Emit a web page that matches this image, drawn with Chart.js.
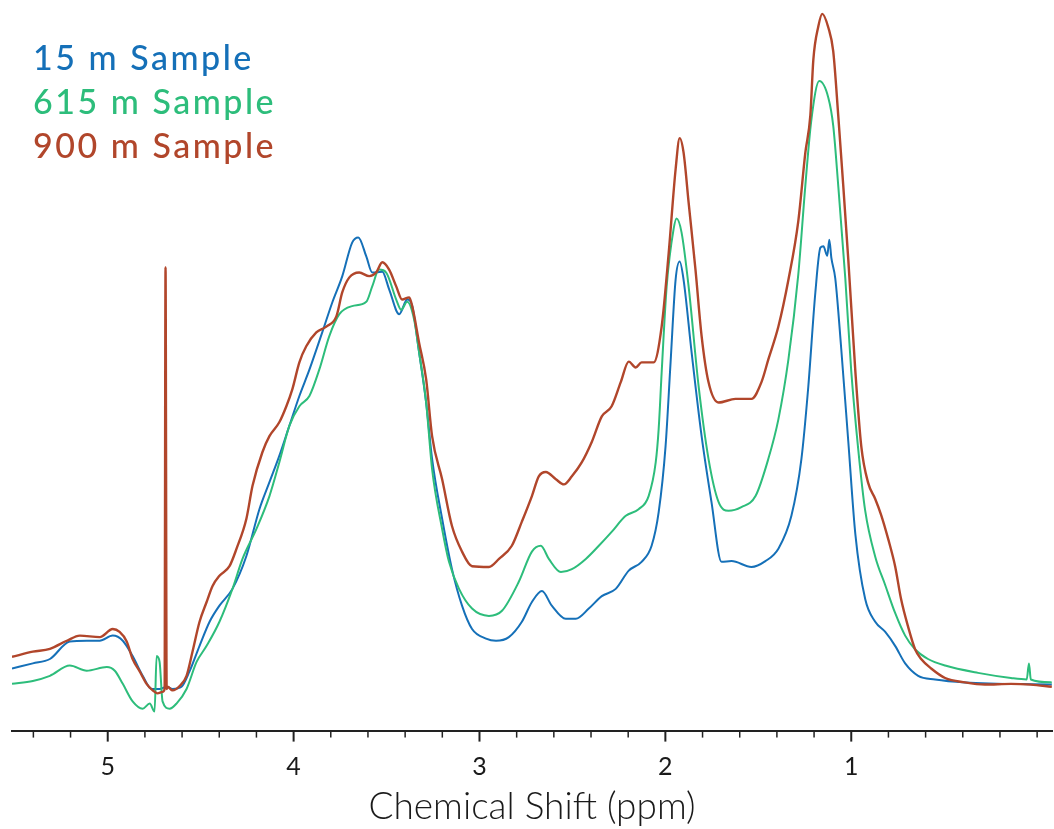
<!DOCTYPE html>
<html>
<head>
<meta charset="utf-8">
<script src="https://cdn.jsdelivr.net/npm/chart.js@4.4.1/dist/chart.umd.min.js"></script>
<style>
  html, body { margin: 0; padding: 0; background: #fff; }
  #wrap { width: 1054px; height: 829px; position: relative; }
</style>
</head>
<body>
<div id="wrap"><canvas id="nmr"></canvas></div>
<script>
// 1H NMR spectra of three depth samples.
// Each point is [chemical shift (ppm), intensity (a.u., 0-100)].

const sample15 = [
  [5.515, 8.5], [5.403, 9.2], [5.311, 9.8], [5.204, 12.2], [5.113, 12.3], [5.043, 12.3],
  [4.973, 13.0], [4.919, 12.3], [4.866, 10.2], [4.812, 7.5], [4.764, 5.7], [4.721, 5.7],
  [4.683, 6.0], [4.651, 5.7], [4.603, 6.0], [4.560, 8.1], [4.506, 11.6], [4.452, 14.9],
  [4.399, 17.1], [4.329, 19.4], [4.254, 23.9], [4.184, 30.3], [4.130, 34.0], [4.077, 37.6],
  [4.023, 41.7], [3.969, 45.8], [3.915, 49.4], [3.846, 54.5], [3.792, 58.6], [3.738, 62.2],
  [3.685, 66.8], [3.652, 67.5], [3.609, 64.9], [3.577, 62.7], [3.523, 62.8], [3.486, 60.4],
  [3.432, 57.0], [3.389, 59.0], [3.362, 58.1], [3.325, 51.8], [3.287, 44.9], [3.255, 37.2],
  [3.201, 29.0], [3.148, 22.1], [3.094, 17.1], [3.040, 13.9], [2.965, 12.6], [2.911, 12.3],
  [2.842, 12.8], [2.772, 14.9], [2.718, 17.6], [2.664, 19.1], [2.611, 17.1], [2.536, 15.3],
  [2.482, 15.3], [2.412, 16.7], [2.342, 18.4], [2.267, 19.4], [2.197, 21.9], [2.128, 23.1],
  [2.074, 25.3], [2.036, 29.9], [1.999, 38.9], [1.972, 50.4], [1.945, 61.7], [1.923, 64.2],
  [1.902, 61.7], [1.859, 51.8], [1.805, 40.3], [1.752, 31.3], [1.698, 23.1], [1.644, 23.2],
  [1.537, 22.4], [1.462, 23.2], [1.392, 24.9], [1.322, 29.4], [1.268, 37.2], [1.231, 47.1],
  [1.193, 60.0], [1.166, 66.1], [1.150, 66.3], [1.129, 65.0], [1.118, 67.2], [1.107, 64.7],
  [1.086, 61.9], [1.054, 52.3], [1.016, 39.6], [0.978, 26.9], [0.925, 18.0], [0.871, 14.9],
  [0.817, 13.5], [0.764, 11.6], [0.710, 9.2], [0.640, 7.5], [0.549, 7.0], [0.388, 6.6],
  [-0.079, 6.3]
];

const sample615 = [
  [5.515, 6.4], [5.403, 6.8], [5.311, 7.5], [5.204, 8.9], [5.113, 8.2], [5.005, 8.7],
  [4.962, 8.2], [4.919, 6.4], [4.866, 4.0], [4.812, 3.0], [4.774, 3.7], [4.748, 2.6],
  [4.737, 10.2], [4.721, 9.4], [4.705, 4.0], [4.667, 3.0], [4.630, 3.7], [4.576, 5.7],
  [4.522, 9.4], [4.468, 11.6], [4.399, 14.9], [4.329, 19.4], [4.275, 23.5], [4.200, 27.6],
  [4.130, 32.1], [4.077, 36.7], [4.023, 41.7], [3.969, 44.4], [3.915, 45.8], [3.862, 49.4],
  [3.808, 54.0], [3.754, 57.0], [3.685, 58.1], [3.609, 58.7], [3.577, 60.8], [3.540, 63.1],
  [3.502, 62.7], [3.448, 59.0], [3.421, 57.6], [3.389, 58.7], [3.352, 56.3], [3.325, 51.8],
  [3.287, 44.9], [3.255, 35.8], [3.201, 27.6], [3.164, 23.1], [3.110, 19.4], [3.040, 16.7],
  [2.949, 15.7], [2.879, 16.4], [2.788, 20.4], [2.718, 24.5], [2.670, 25.3], [2.627, 23.5],
  [2.562, 21.7], [2.503, 22.1], [2.428, 23.5], [2.358, 25.3], [2.289, 27.2], [2.213, 29.4],
  [2.144, 30.3], [2.090, 32.1], [2.052, 36.7], [2.036, 41.3], [2.020, 49.0], [1.993, 60.8],
  [1.956, 68.6], [1.940, 70.1], [1.913, 68.2], [1.875, 60.8], [1.821, 47.1], [1.768, 37.2],
  [1.714, 31.3], [1.660, 30.1], [1.591, 30.6], [1.515, 32.1], [1.446, 37.2], [1.392, 42.6],
  [1.338, 50.8], [1.285, 62.4], [1.247, 74.6], [1.215, 83.5], [1.172, 88.9], [1.123, 86.6],
  [1.097, 82.8], [1.070, 74.6], [1.032, 61.9], [1.000, 49.2], [0.962, 38.4], [0.925, 30.1],
  [0.871, 23.8], [0.817, 19.9], [0.764, 16.1], [0.710, 13.0], [0.656, 11.1], [0.587, 9.8],
  [0.495, 8.9], [0.318, 7.9], [0.141, 7.2], [0.056, 7.0], [0.044, 9.2], [0.034, 7.0],
  [-0.079, 6.6]
];

const sample900 = [
  [5.515, 10.1], [5.403, 10.8], [5.311, 11.2], [5.220, 12.3], [5.150, 13.0], [5.043, 12.8],
  [4.973, 13.9], [4.936, 13.5], [4.898, 12.2], [4.866, 9.8], [4.828, 8.1], [4.791, 6.4],
  [4.758, 5.5], [4.732, 5.1], [4.705, 5.3], [4.694, 5.7], [4.689, 63.4], [4.683, 5.7],
  [4.678, 6.0], [4.651, 5.5], [4.613, 6.1], [4.576, 7.5], [4.544, 10.8], [4.506, 14.9],
  [4.468, 17.6], [4.436, 19.8], [4.399, 21.2], [4.345, 22.5], [4.307, 24.9], [4.254, 29.0],
  [4.221, 33.5], [4.168, 38.1], [4.130, 40.3], [4.077, 42.2], [4.039, 44.4], [4.007, 46.7],
  [3.969, 50.4], [3.932, 52.6], [3.878, 54.5], [3.824, 55.3], [3.770, 56.7], [3.738, 60.0],
  [3.701, 62.0], [3.647, 62.7], [3.593, 62.2], [3.556, 62.7], [3.523, 64.1], [3.486, 63.1],
  [3.448, 60.8], [3.416, 59.0], [3.378, 59.3], [3.362, 58.1], [3.325, 53.1], [3.287, 48.1],
  [3.255, 40.3], [3.201, 34.4], [3.148, 28.0], [3.094, 24.5], [3.040, 22.5], [2.949, 22.4],
  [2.895, 23.5], [2.826, 25.3], [2.772, 28.6], [2.718, 32.1], [2.681, 34.8], [2.643, 35.4],
  [2.589, 34.4], [2.546, 33.7], [2.503, 34.8], [2.450, 36.7], [2.396, 39.5], [2.342, 43.0],
  [2.289, 44.4], [2.240, 47.7], [2.197, 50.5], [2.160, 49.7], [2.128, 50.4], [2.063, 50.4],
  [2.020, 55.3], [1.982, 65.4], [1.945, 76.8], [1.923, 81.1], [1.902, 79.1], [1.875, 72.3],
  [1.838, 63.1], [1.805, 54.0], [1.768, 47.7], [1.714, 44.9], [1.623, 45.4], [1.537, 45.4],
  [1.483, 47.7], [1.446, 50.8], [1.392, 55.3], [1.338, 61.7], [1.285, 69.7], [1.247, 79.1],
  [1.220, 84.2], [1.204, 91.8], [1.177, 96.4], [1.156, 98.1], [1.123, 96.2], [1.097, 93.0],
  [1.070, 84.2], [1.043, 74.6], [1.016, 64.5], [0.978, 49.2], [0.946, 38.9], [0.909, 33.9],
  [0.871, 31.7], [0.839, 29.5], [0.801, 26.2], [0.764, 22.5], [0.732, 18.0], [0.694, 14.2],
  [0.656, 11.1], [0.624, 9.8], [0.570, 8.5], [0.495, 7.2], [0.388, 6.6], [0.281, 6.3],
  [0.141, 6.4], [0.034, 6.3], [-0.079, 6.0]
];

const seriesNames = ['15 m Sample', '615 m Sample', '900 m Sample'];
const seriesColors = ['#1570b8', '#2dbd7b', '#b1462b'];
const seriesWidths = [2, 2, 2.4];
const majorTicks = [5, 4, 3, 2, 1];
const xMin = -0.08;
const xMax = 5.515;

// minor tick every 0.2 ppm from 0 to 5.4
const tickValues = [];
for (let k = 0; k <= 27; k++) tickValues.push(Math.round(k * 2) / 10);

const isMajor = v => majorTicks.some(m => Math.abs(m - v) < 1e-6);

// short minor / long major tick marks hanging under the axis line
const tickMarks = {
  id: 'tickMarks',
  afterDraw(chart) {
    const scale = chart.scales.x;
    const ctx = chart.ctx;
    ctx.save();
    ctx.strokeStyle = '#222';
    scale.ticks.forEach(t => {
      const x = scale.getPixelForValue(t.value);
      const major = isMajor(t.value);
      ctx.lineWidth = major ? 2 : 1.5;
      ctx.beginPath();
      ctx.moveTo(x, scale.top);
      ctx.lineTo(x, scale.top + (major ? 11 : 7));
      ctx.stroke();
    });
    ctx.restore();
  }
};

// coloured text legend in the top-left corner
const textLegend = {
  id: 'textLegend',
  afterDraw(chart) {
    const ctx = chart.ctx;
    ctx.save();
    ctx.font = '500 34px Lato, sans-serif';
    ctx.letterSpacing = '2.5px';
    ctx.textBaseline = 'alphabetic';
    seriesNames.forEach((name, i) => {
      ctx.fillStyle = seriesColors[i];
      ctx.fillText(name, 33, 70 + i * 44);
    });
    ctx.restore();
  }
};

const toXY = pts => pts.map(p => ({ x: p[0], y: p[1] }));
const allSeries = [sample15, sample615, sample900];

new Chart(document.getElementById('nmr'), {
  type: 'line',
  plugins: [tickMarks, textLegend],
  data: {
    datasets: allSeries.map((pts, i) => ({
      label: seriesNames[i],
      data: toXY(pts),
      borderColor: seriesColors[i],
      borderWidth: seriesWidths[i],
      pointRadius: 0,
      cubicInterpolationMode: 'monotone',
      fill: false,
      order: 3 - i
    }))
  },
  options: {
    responsive: true,
    maintainAspectRatio: false,
    animation: false,
    layout: { padding: { left: 12, right: 2, top: 0, bottom: 0 } },
    plugins: {
      legend: { display: false },
      tooltip: { enabled: false }
    },
    scales: {
      x: {
        type: 'linear',
        reverse: true,
        min: xMin,
        max: xMax,
        afterBuildTicks: scale => { scale.ticks = tickValues.map(v => ({ value: v })); },
        ticks: {
          autoSkip: false,
          maxRotation: 0,
          padding: 21,
          color: '#1a1a1a',
          font: { family: 'Lato', size: 25, weight: 400 },
          callback: v => isMajor(v) ? String(Math.round(v)) : ''
        },
        grid: { display: true, drawOnChartArea: false, drawTicks: false },
        border: { display: true, color: '#222', width: 2 },
        title: {
          display: true,
          text: 'Chemical Shift (ppm)',
          color: '#1a1a1a',
          font: { family: 'Lato', size: 37, weight: 300 },
          padding: { top: -18, bottom: 0 }
        }
      },
      y: {
        display: false,
        min: 0,
        max: 100
      }
    }
  }
});
</script>
</body>
</html>
